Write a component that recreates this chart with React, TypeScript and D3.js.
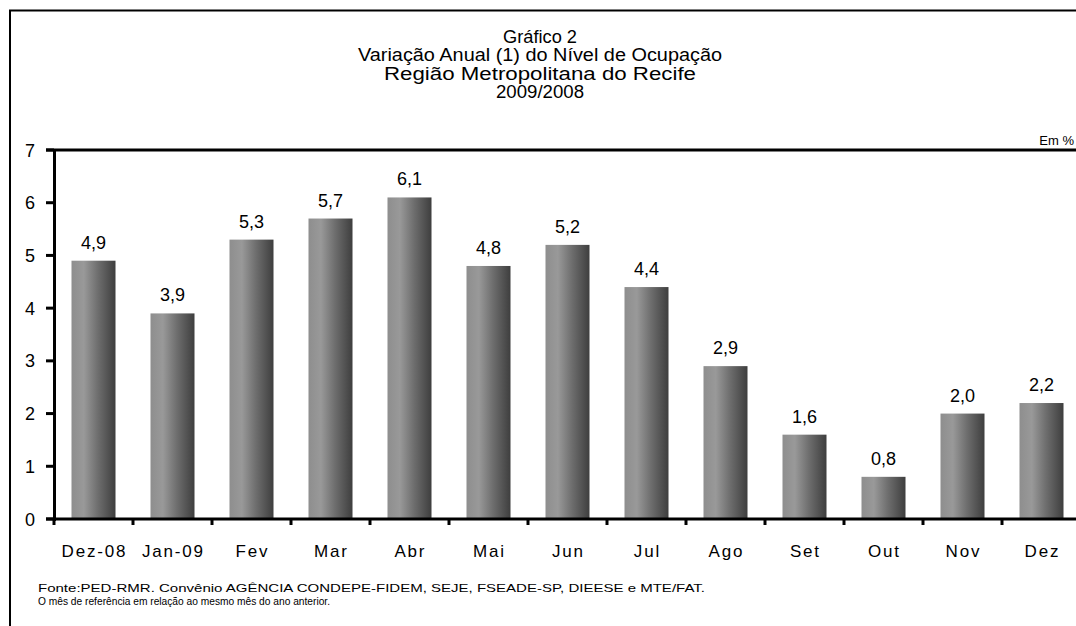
import React from "react";
import * as d3 from "d3";

const categories = ["Dez-08", "Jan-09", "Fev", "Mar", "Abr", "Mai", "Jun", "Jul", "Ago", "Set", "Out", "Nov", "Dez"];
const values = [4.9, 3.9, 5.3, 5.7, 6.1, 4.8, 5.2, 4.4, 2.9, 1.6, 0.8, 2.0, 2.2];
const yTicks = [0, 1, 2, 3, 4, 5, 6, 7];
const titleLines = [
  "Gráfico 2",
  "Variação Anual (1) do Nível de Ocupação",
  "Região Metropolitana do Recife",
  "2009/2008",
];
const titleWidths = [74, 364, 312, 88];
const unitLabel = "Em %";
const footnotes = [
  "Fonte:PED-RMR. Convênio AGÊNCIA CONDEPE-FIDEM, SEJE, FSEADE-SP, DIEESE e MTE/FAT.",
  "O mês de referência em relação ao mesmo mês do ano anterior.",
];
const footnoteWidths = [667, 292];

const W = 1076;
const H = 626;
const FONT = "'Liberation Sans', Arial, sans-serif";

export default function App() {
  const x = d3
    .scaleBand<string>()
    .domain(categories)
    .range([54, 54 + 79 * categories.length])
    .paddingInner(0.443)
    .paddingOuter(0.2215);
  const y = d3.scaleLinear().domain([0, 7]).range([519, 150]);
  const step = x.step();
  const boundaries = d3.range(categories.length + 1).map((i) => 54 + i * step);
  const fmt = (v: number) => d3.format(".1f")(v).replace(".", ",");

  return (
    <svg width={W} height={H} style={{ display: "block", position: "absolute", left: 0, top: 0 }} fontFamily={FONT}>
      <defs>
        <linearGradient id="barGrad" x1="0" x2="1" y1="0" y2="0">
          <stop offset="0%" stopColor="#8e8e8e" />
          <stop offset="28%" stopColor="#999999" />
          <stop offset="60%" stopColor="#6e6e6e" />
          <stop offset="100%" stopColor="#3e3e3e" />
        </linearGradient>
      </defs>
      <rect x={0} y={0} width={W} height={H} fill="#ffffff" />
      <rect x={10} y={10.5} width={1200} height={800} fill="none" stroke="#000" strokeWidth={2} />

      {titleLines.map((t, i) => (
        <text
          key={i}
          x={540 - titleWidths[i] / 2}
          y={43 + i * 18.3}
          fontSize={17.5}
          fill="#000"
          textLength={titleWidths[i]}
          lengthAdjust="spacingAndGlyphs"
        >
          {t}
        </text>
      ))}
      <text x={1074} y={145} textAnchor="end" fontSize={13} fill="#000">
        {unitLabel}
      </text>

      {/* bars */}
      {categories.map((c, i) => (
        <rect
          key={c}
          x={x(c)}
          y={y(values[i])}
          width={x.bandwidth()}
          height={y(0) - y(values[i])}
          fill="url(#barGrad)"
        />
      ))}
      {categories.map((c, i) => (
        <text
          key={"v" + c}
          x={(x(c) as number) + x.bandwidth() / 2}
          y={y(values[i]) - 12}
          textAnchor="middle"
          fontSize={18}
          fill="#000"
        >
          {fmt(values[i])}
        </text>
      ))}

      {/* plot top border */}
      <line x1={46} x2={1100} y1={150} y2={150} stroke="#000" strokeWidth={3} />
      {/* y axis */}
      <line x1={54.5} x2={54.5} y1={149} y2={521} stroke="#000" strokeWidth={3} />
      {yTicks.map((t) => (
        <g key={t}>
          <line x1={46} x2={54} y1={y(t)} y2={y(t)} stroke="#000" strokeWidth={3} />
          <text x={35} y={y(t) + 6.5} textAnchor="end" fontSize={18} fill="#000">
            {t}
          </text>
        </g>
      ))}
      {/* x axis */}
      <line x1={46} x2={1100} y1={519} y2={519} stroke="#000" strokeWidth={3} />
      {boundaries.map((b, i) => (
        <line key={i} x1={b} x2={b} y1={519} y2={525} stroke="#000" strokeWidth={3} />
      ))}
      {categories.map((c) => (
        <text
          key={"l" + c}
          x={(x(c) as number) + x.bandwidth() / 2 + 0.9}
          y={557}
          textAnchor="middle"
          fontSize={17}
          letterSpacing={1.8}
          fill="#000"
        >
          {c}
        </text>
      ))}

      {footnotes.map((f, i) => (
        <text
          key={"f" + i}
          x={38}
          y={592 + i * 13}
          fontSize={11}
          fill="#000"
          textLength={footnoteWidths[i]}
          lengthAdjust="spacingAndGlyphs"
        >
          {f}
        </text>
      ))}
    </svg>
  );
}
